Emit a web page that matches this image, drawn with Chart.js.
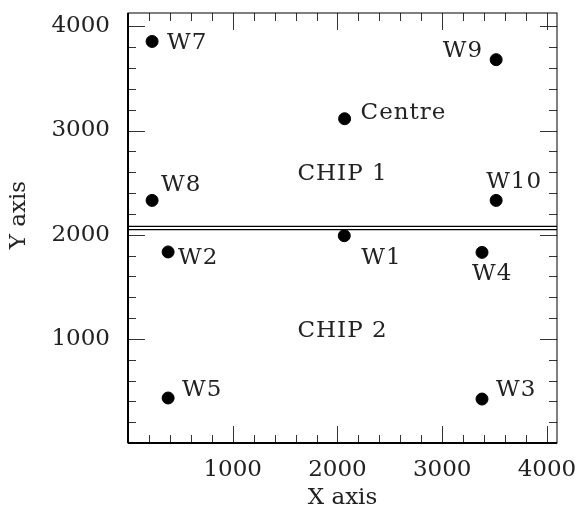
<!DOCTYPE html>
<html>
<head>
<meta charset="utf-8">
<script src="https://cdn.jsdelivr.net/npm/chart.js@4/dist/chart.umd.min.js"></script>
<style>
  html, body { margin: 0; background: #fff; }
  canvas { display: block; }
</style>
</head>
<body>
<canvas id="chipChart" width="582" height="512"></canvas>
<script>
// focal plane reference positions, detector pixels
const positionNames = ["W7", "W9", "Centre", "W8", "W2", "W1", "W10", "W4", "W5", "W3"];
const xValues = [230, 3515, 2068, 230, 383, 2065, 3515, 3380, 383, 3380];
const yValues = [3855, 3680, 3113, 2329, 1834, 1990, 2329, 1830, 432, 422];

const xTicks = [1000, 2000, 3000, 4000];
const yTicks = [1000, 2000, 3000, 4000];

// gap between the two chips
const gapEdges = [2048, 2080];

const chipNames = ["CHIP 1", "CHIP 2"];
const chipX = [2048, 2048];
const chipY = [2585, 1075];

const FONT = "'DejaVu Serif', serif";
const INK = "#222";

// where each name sits relative to its dot (px), and which side
const labelOffsets = {
  W7: [15, 2, "left"], W9: [-13, -9, "right"], Centre: [16, -6, "left"],
  W8: [9, -15, "left"], W2: [10, 6, "left"], W1: [17, 22, "left"],
  W10: [-10, -18, "left"], W4: [-10, 22, "left"], W5: [14, -8, "left"],
  W3: [14, -9, "left"]
};

const points = xValues.map((x, i) => ({ x, y: yValues[i] }));

const gapLines = gapEdges.map(y => ({
  type: "line",
  data: [{ x: 0, y }, { x: 4096, y }],
  borderColor: "#000",
  borderWidth: 1.3,
  pointRadius: 0
}));

// box with inward ticks on all four sides
const framePlugin = {
  id: "frame",
  afterDatasetsDraw(chart) {
    const { ctx, chartArea: a, scales: { x, y } } = chart;
    ctx.save();
    ctx.strokeStyle = "#333";
    ctx.lineWidth = 1;
    ctx.beginPath();
    for (let v = 200; v < 4096; v += 200) {
      const len = v % 1000 === 0 ? 17 : 8;
      const px = Math.round(x.getPixelForValue(v)) + 0.5;
      ctx.moveTo(px, a.bottom); ctx.lineTo(px, a.bottom - len);
      ctx.moveTo(px, a.top); ctx.lineTo(px, a.top + len);
      const py = Math.round(y.getPixelForValue(v)) + 0.5;
      ctx.moveTo(a.left, py); ctx.lineTo(a.left + len, py);
      ctx.moveTo(a.right, py); ctx.lineTo(a.right - len, py);
    }
    ctx.stroke();
    ctx.strokeStyle = "#000";
    ctx.lineWidth = 1;
    ctx.strokeRect(a.left, a.top, a.right - a.left, a.bottom - a.top);
    ctx.lineWidth = 2;
    ctx.beginPath();
    ctx.moveTo(a.left, a.bottom); ctx.lineTo(a.right, a.bottom);
    ctx.moveTo(a.left, a.top); ctx.lineTo(a.left, a.bottom);
    ctx.stroke();
    ctx.restore();
  }
};

const labelPlugin = {
  id: "pointNames",
  afterDatasetsDraw(chart) {
    const { ctx, chartArea: a, scales: { x, y } } = chart;
    const meta = chart.getDatasetMeta(0);
    ctx.save();
    ctx.font = "23px " + FONT;
    ctx.fillStyle = INK;
    ctx.textBaseline = "middle";
    ctx.letterSpacing = "1px";
    meta.data.forEach((pt, i) => {
      const name = positionNames[i];
      const [dx, dy, align] = labelOffsets[name];
      ctx.textAlign = align;
      ctx.fillText(name, pt.x + dx, pt.y + dy);
    });
    ctx.textAlign = "center";
    chipNames.forEach((name, i) => {
      ctx.fillText(name, x.getPixelForValue(chipX[i]), y.getPixelForValue(chipY[i]));
    });
    // y title, sitting a little above the middle of the frame
    ctx.letterSpacing = "0px";
    ctx.translate(19, (a.top + a.bottom) / 2 - 13);
    ctx.rotate(-Math.PI / 2);
    ctx.fillText("Y axis", 0, 0);
    ctx.restore();
  }
};

// fixed axis boxes so the plot frame lands where it should
function fitX(s) {
  s.height = 69;
  s.paddingLeft = 0; s.paddingRight = 0;
}
function fitY(s) {
  s.width = 128;
  s.paddingTop = 0; s.paddingBottom = 0;
}

const tickFont = { family: FONT, size: 23 };

new Chart(document.getElementById("chipChart"), {
  type: "scatter",
  data: {
    datasets: [{
      data: points,
      backgroundColor: "#000",
      borderColor: "#000",
      pointRadius: 6,
      pointHoverRadius: 6
    }, ...gapLines]
  },
  options: {
    responsive: false,
    animation: false,
    layout: { padding: { top: 13, right: 25, left: 0, bottom: 0 } },
    plugins: { legend: { display: false }, tooltip: { enabled: false } },
    scales: {
      x: {
        type: "linear",
        min: 0,
        max: 4096,
        grid: { display: false, drawTicks: false },
        border: { display: false },
        afterBuildTicks: s => { s.ticks = xTicks.map(value => ({ value })); },
        afterFit: fitX,
        ticks: { padding: 13, color: INK, font: tickFont, callback: v => String(v) },
        title: {
          display: true, text: "X axis", color: INK,
          font: tickFont, padding: { top: 0, bottom: 0 }
        }
      },
      y: {
        type: "linear",
        min: 0,
        max: 4128,
        grid: { display: false, drawTicks: false },
        border: { display: false },
        afterBuildTicks: s => { s.ticks = yTicks.map(value => ({ value })); },
        afterFit: fitY,
        ticks: { padding: 18, color: INK, font: tickFont, callback: v => String(v) }
      }
    }
  },
  plugins: [framePlugin, labelPlugin]
});
</script>
</body>
</html>
